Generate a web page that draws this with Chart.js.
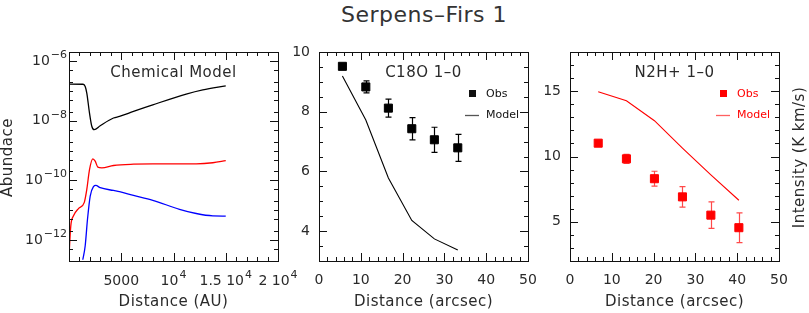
<!DOCTYPE html>
<html>
<head>
<meta charset="utf-8">
<title>Serpens-Firs 1</title>
<script src="https://cdn.jsdelivr.net/npm/chart.js@4.4.1/dist/chart.umd.min.js"></script>
<style>
body { margin: 0; background: #fff; }
#wrap { position: relative; width: 809px; height: 313px; overflow: hidden; background: #fff; }
#wrap canvas { position: absolute; top: 0; }
#title { position: absolute; left: 0; top: 2px; width: 848px; text-align: center;
  font-family: "DejaVu Sans", sans-serif; font-weight: 400; font-size: 22px; color: #333; letter-spacing: 0.5px; }
</style>
</head>
<body>
<div id="wrap">
  <div id="title">Serpens–Firs 1</div>
  <canvas id="chem" width="300" height="313" style="left:0"></canvas>
  <canvas id="c18o" width="260" height="313" style="left:285px"></canvas>
  <canvas id="n2h" width="264" height="313" style="left:545px"></canvas>
</div>
<script>
// chemical model (distance in AU, abundance)
var coAu = [0, 1350, 1550, 1703, 1962, 2182, 2411, 2986, 4258, 4832, 6172, 8019, 11215, 12803, 15000];
var coAbund = [1.67e-7, 1.66e-7, 1.40e-7, 8.4e-8, 1.8e-8, 6.5e-9, 5.0e-9, 6.8e-9, 1.23e-8, 1.39e-8, 2.04e-8, 3.4e-8, 7.8e-8, 1.08e-7, 1.47e-7];
var n2hAu = [0, 172, 431, 909, 1455, 1703, 1962, 2277, 2507, 2756, 3139, 4258, 6172, 8019, 12172, 13760, 15000];
var n2hAbund = [3e-13, 3.0e-12, 6.5e-12, 1.14e-11, 1.8e-11, 5.0e-11, 2.3e-10, 5.3e-10, 4.4e-10, 2.8e-10, 2.65e-10, 3.16e-10, 3.5e-10, 3.6e-10, 3.6e-10, 3.9e-10, 4.6e-10];
var thirdAu = [1320, 1550, 1770, 2029, 2344, 2564, 2986, 4258, 4832, 6172, 8019, 10574, 12172, 13760, 15000];
var thirdAbund = [2.2e-13, 6.5e-13, 5.0e-12, 3.0e-11, 6.2e-11, 6.8e-11, 5.7e-11, 4.6e-11, 4.2e-11, 3.16e-11, 2.15e-11, 1.08e-11, 7.8e-12, 6.5e-12, 6.4e-12];

// C18O 1-0
var c18oDist = [5.6, 11.2, 16.6, 22.2, 27.6, 33.2];
var c18oObs = [9.52, 8.83, 8.12, 7.43, 7.06, 6.79];
var c18oErr = [0.08, 0.2, 0.3, 0.37, 0.42, 0.45];
var c18oModel = [9.2, 7.72, 5.78, 4.36, 3.74, 3.37];

// N2H+ 1-0
var n2hDist = [6.75, 13.5, 20.2, 26.9, 33.7, 40.4];
var n2hObs = [11.02, 9.82, 8.30, 6.91, 5.51, 4.55];
var n2hErr = [0.2, 0.35, 0.57, 0.78, 1.02, 1.14];
var n2hModel = [14.95, 14.27, 12.74, 10.64, 8.6, 6.65];

// tick labels
var auTickVals = [5000, 10000, 15000, 20000];
var auTickText = ['5000', '10^4', '1.5 10^4', '2 10^4'];
var abundTickVals = [1e-12, 1e-10, 1e-8, 1e-6];
var abundTickText = ['10^\u221212', '10^\u221210', '10^\u22128', '10^\u22126'];
var arcsecTicks = [0, 10, 20, 30, 40, 50];
var c18oTicks = [4, 6, 8, 10];
var n2hTicks = [5, 10, 15];

var FAM = '"DejaVu Sans", sans-serif';
var INK = '#2a2a2a';
function fnt(size) { return '400 ' + size + 'px ' + FAM; }

function pts(xs, ys) {
    return xs.map(function (x, i) { return { x: x, y: ys[i] }; });
}
function range(a, b, step) {
    var out = [];
    for (var v = a; v <= b + 1e-9; v += step) out.push(Math.round(v * 1000) / 1000);
    return out;
}
function logMinor(lo, hi, majors) {
    var out = [];
    for (var e = -14; e <= -5; e++) {
        [1, 2, 5].forEach(function (m) {
            var v = m * Math.pow(10, e);
            if (v > lo && v < hi && majors.indexOf(v) < 0) out.push(v);
        });
    }
    return out;
}

// box + inward ticks on all four sides
var frameTicks = {
    id: 'frameTicks',
    afterDatasetsDraw: function (chart, args, o) {
        var ctx = chart.ctx, a = chart.chartArea, xs = chart.scales.x, ys = chart.scales.y;
        ctx.save();
        ctx.strokeStyle = '#111';
        ctx.lineWidth = 1;
        ctx.beginPath();
        function xMark(v, len) {
            var p = Math.round(xs.getPixelForValue(v)) + 0.5;
            ctx.moveTo(p, a.bottom); ctx.lineTo(p, a.bottom - len);
            ctx.moveTo(p, a.top); ctx.lineTo(p, a.top + len);
        }
        function yMark(v, len) {
            var p = Math.round(ys.getPixelForValue(v)) + 0.5;
            ctx.moveTo(a.left, p); ctx.lineTo(a.left + len, p);
            ctx.moveTo(a.right, p); ctx.lineTo(a.right - len, p);
        }
        o.xMajor.forEach(function (v) { xMark(v, 8); });
        o.xMinor.forEach(function (v) { xMark(v, 4); });
        o.yMajor.forEach(function (v) { yMark(v, 8); });
        o.yMinor.forEach(function (v) { yMark(v, 4); });
        ctx.stroke();
        ctx.strokeRect(Math.round(a.left) + 0.5, Math.round(a.top) + 0.5,
            Math.round(a.right - a.left), Math.round(a.bottom - a.top));
        ctx.restore();
    }
};

var errorBars = {
    id: 'errorBars',
    beforeDatasetsDraw: function (chart) {
        var ctx = chart.ctx, ys = chart.scales.y;
        chart.data.datasets.forEach(function (ds, i) {
            if (!ds.errors) return;
            var meta = chart.getDatasetMeta(i);
            ctx.save();
            ctx.strokeStyle = ds.errorColor;
            ctx.lineWidth = 1.2;
            ctx.beginPath();
            meta.data.forEach(function (pt, j) {
                var v = ds.data[j].y, e = ds.errors[j];
                var x = Math.round(pt.x) + 0.5;
                var y1 = ys.getPixelForValue(v + e), y2 = ys.getPixelForValue(v - e);
                ctx.moveTo(x, y1); ctx.lineTo(x, y2);
                ctx.moveTo(x - 3, y1); ctx.lineTo(x + 3, y1);
                ctx.moveTo(x - 3, y2); ctx.lineTo(x + 3, y2);
            });
            ctx.stroke();
            ctx.restore();
        });
    }
};

// "10^4" style labels with a raised exponent
function drawPower(ctx, text, x, y, align) {
    var parts = text.split('^');
    var base = parts[0], exp = parts[1] || '';
    ctx.font = fnt(14);
    var wb = ctx.measureText(base).width;
    ctx.font = fnt(11);
    var we = exp ? ctx.measureText(exp).width + 1 : 0;
    var left = align === 'right' ? x - wb - we : x - (wb + we) / 2;
    ctx.textAlign = 'left';
    ctx.textBaseline = 'middle';
    ctx.font = fnt(14);
    ctx.fillText(base, left, y);
    if (exp) {
        ctx.font = fnt(11);
        ctx.fillText(exp, left + wb + 1, y - 6);
    }
}

var panelText = {
    id: 'panelText',
    afterDraw: function (chart, args, o) {
        var ctx = chart.ctx, a = chart.chartArea;
        var cx = (a.left + a.right) / 2, cy = (a.top + a.bottom) / 2;
        ctx.save();
        ctx.fillStyle = INK;
        if (o.powerLabels) {
            auTickVals.forEach(function (v, i) {
                drawPower(ctx, auTickText[i], chart.scales.x.getPixelForValue(v), 281, 'center');
            });
            abundTickVals.forEach(function (v, i) {
                drawPower(ctx, abundTickText[i], a.left - 2, chart.scales.y.getPixelForValue(v), 'right');
            });
        }
        ctx.letterSpacing = '0.5px';
        ctx.textAlign = 'center';
        ctx.textBaseline = 'middle';
        ctx.font = fnt(15);
        ctx.fillText(o.xTitle, cx, 302);
        if (o.yTitle) {
            ctx.save();
            ctx.translate(o.yTitleX, cy + 1);
            ctx.rotate(-Math.PI / 2);
            ctx.fillText(o.yTitle, 0, 0);
            ctx.restore();
        }
        ctx.fillText(o.title, cx, a.top + 21);
        if (o.legend) {
            ctx.letterSpacing = '0px';
            ctx.font = fnt(11);
            ctx.textAlign = 'left';
            ctx.fillStyle = o.color;
            ctx.fillRect(Math.round(a.left + 150), Math.round(a.top + 38), 7, 7);
            ctx.fillText('Obs', a.left + 167, a.top + 42);
            ctx.strokeStyle = o.legendLine;
            ctx.lineWidth = 1.3;
            ctx.beginPath();
            ctx.moveTo(a.left + 146, a.top + 63.5);
            ctx.lineTo(a.left + 160, a.top + 63.5);
            ctx.stroke();
            ctx.fillText('Model', a.left + 167, a.top + 63);
        }
        ctx.restore();
    }
};

function xAxis(min, max, showTicks) {
    return {
        type: 'linear', min: min, max: max,
        grid: { display: false, drawTicks: false },
        border: { display: false },
        afterBuildTicks: function (s) { s.ticks = arcsecTicks.map(function (v) { return { value: v }; }); },
        ticks: { display: showTicks, autoSkip: false, maxRotation: 0, padding: 11,
                 color: INK, font: { family: FAM, size: 14, weight: '400' } },
        afterFit: function (s) { s.height = 52; s.paddingLeft = 0; s.paddingRight = 0; }
    };
}
function yAxis(type, min, max, tickVals, width, showTicks) {
    return {
        type: type, min: min, max: max,
        grid: { display: false, drawTicks: false },
        border: { display: false },
        afterBuildTicks: function (s) { s.ticks = tickVals.map(function (v) { return { value: v }; }); },
        ticks: { display: showTicks, padding: 9, color: INK,
                 font: { family: FAM, size: 14, weight: '400' } },
        afterFit: function (s) { s.width = width; s.paddingTop = 0; s.paddingBottom = 0; }
    };
}
function baseOptions(padRight, scales, plugOpts) {
    return {
        responsive: false,
        animation: false,
        layout: { padding: { top: 52, right: padRight, bottom: 0, left: 0 } },
        scales: scales,
        plugins: {
            legend: { display: false },
            tooltip: { enabled: false },
            frameTicks: plugOpts.ticks,
            panelText: plugOpts.text
        }
    };
}

// panel 1: chemical model
new Chart(document.getElementById('chem'), {
    type: 'scatter',
    data: {
        datasets: [
            { data: pts(coAu, coAbund), borderColor: '#000000' },
            { data: pts(n2hAu, n2hAbund), borderColor: '#ff0000' },
            { data: pts(thirdAu, thirdAbund), borderColor: '#0000ff' }
        ].map(function (d) {
            d.showLine = true; d.pointRadius = 0; d.borderWidth = 1.3;
            d.cubicInterpolationMode = 'monotone';
            return d;
        })
    },
    options: baseOptions(22, {
        x: (function () { var x = xAxis(0, 20000, false); x.afterBuildTicks = function (s) { s.ticks = auTickVals.map(function (v) { return { value: v }; }); }; return x; })(),
        y: yAxis('logarithmic', 2e-13, 2e-6, abundTickVals, 69, false)
    }, {
        ticks: { xMajor: [5000, 10000, 15000], xMinor: range(1000, 19000, 1000).filter(function (v) { return v % 5000 !== 0; }),
                 yMajor: abundTickVals, yMinor: logMinor(2e-13, 2e-6, abundTickVals) },
        text: { title: 'Chemical Model', color: INK, xTitle: 'Distance (AU)', yTitle: 'Abundace', yTitleX: 8, powerLabels: true }
    }),
    plugins: [frameTicks, panelText]
});

// panel 2: C18O 1-0
new Chart(document.getElementById('c18o'), {
    type: 'scatter',
    data: {
        datasets: [
            { data: pts(c18oDist, c18oObs), errors: c18oErr, errorColor: '#000000',
              pointStyle: 'rect', pointRadius: 5.7, borderWidth: 1, backgroundColor: '#000000', borderColor: '#000000' },
            { data: pts(c18oDist, c18oModel), showLine: true, pointRadius: 0, borderWidth: 1.1, borderColor: '#000000' }
        ]
    },
    options: baseOptions(17, {
        x: xAxis(0, 50, true),
        y: yAxis('linear', 3, 10, c18oTicks, 34, true)
    }, {
        ticks: { xMajor: range(10, 40, 10), xMinor: range(2, 48, 2).filter(function (v) { return v % 10 !== 0; }),
                 yMajor: c18oTicks, yMinor: range(3.5, 9.5, 0.5).filter(function (v) { return v % 2 !== 0; }) },
        text: { title: 'C18O 1\u20130', color: '#111', xTitle: 'Distance (arcsec)', legend: true, legendLine: '#555' }
    }),
    plugins: [errorBars, frameTicks, panelText]
});

// panel 3: N2H+ 1-0
new Chart(document.getElementById('n2h'), {
    type: 'scatter',
    data: {
        datasets: [
            { data: pts(n2hDist, n2hObs), errors: n2hErr, errorColor: '#ff4a4a',
              pointStyle: 'rect', pointRadius: 5.7, borderWidth: 1, backgroundColor: '#ff0000', borderColor: '#ff0000' },
            { data: pts(n2hDist, n2hModel), showLine: true, pointRadius: 0, borderWidth: 1.1, borderColor: '#ff0000' }
        ]
    },
    options: baseOptions(30, {
        x: xAxis(0, 50, true),
        y: yAxis('linear', 2, 18, n2hTicks, 25, true)
    }, {
        ticks: { xMajor: range(10, 40, 10), xMinor: range(2, 48, 2).filter(function (v) { return v % 10 !== 0; }),
                 yMajor: n2hTicks, yMinor: range(3, 17, 1).filter(function (v) { return v % 5 !== 0; }) },
        text: { title: 'N2H+ 1\u20130', color: '#ff0000', xTitle: 'Distance (arcsec)', yTitle: 'Intensity (K km/s)', yTitleX: 255, legend: true, legendLine: '#ff6060' }
    }),
    plugins: [errorBars, frameTicks, panelText]
});
</script>
</body>
</html>
